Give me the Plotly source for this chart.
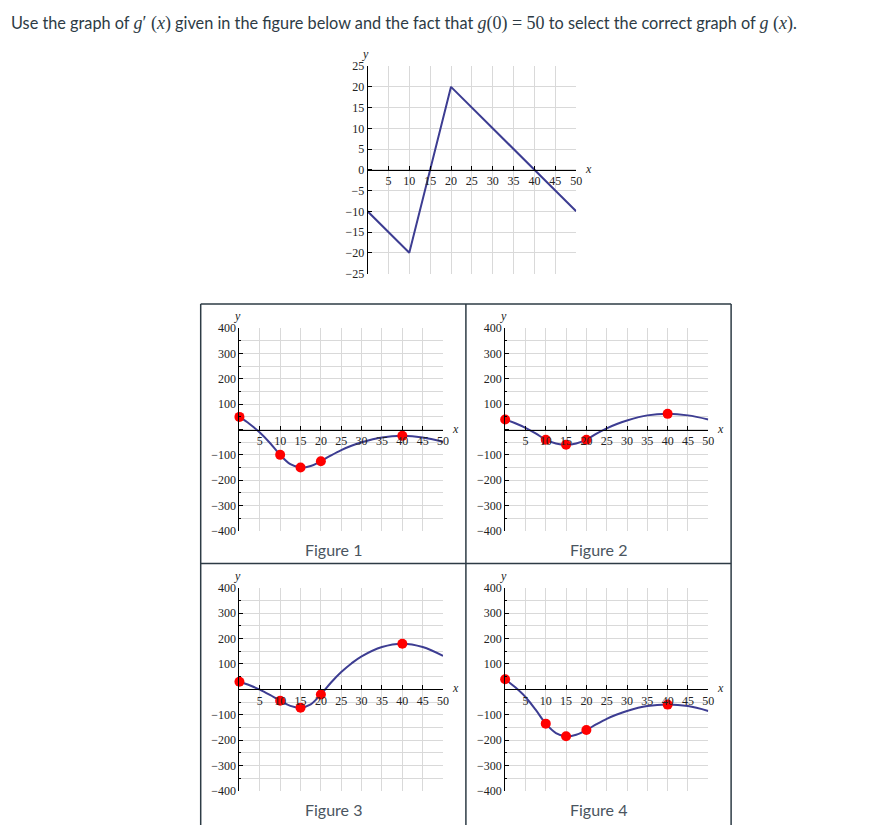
import plotly.graph_objects as go

W, H = 893, 825
OFF = 8  # page body margin of the browser page

# ---- data: g'(x) (top chart) ----
gp_x = [0, 10, 20, 50]
gp_y = [-10, -20, 20, -10]

# ---- data: candidate graphs of g(x) ----
curve_x = [0, 2.5, 5, 7.5, 10, 12.5, 15, 17.5, 20, 22.5, 25, 27.5, 30, 35, 40, 45, 50]
fig1_y = [50, 22, -12, -53, -100, -137, -150, -144, -125, -102, -81, -64, -50, -31, -25, -31, -48]
fig2_y = [40, 25, 7, -15, -40, -55, -60, -55, -40, -16, 5, 22, 36, 56, 62, 56, 40]
fig3_y = [30, 16, -1, -22, -45, -65, -72, -59, -20, 27, 68, 102, 130, 167, 180, 167, 132]
fig4_y = [40, 8, -30, -80, -135, -172, -185, -179, -160, -137, -116, -99, -85, -66, -60, -66, -85]

dot_x = [0, 10, 15, 20, 40]
fig1_dots = [50, -100, -150, -125, -25]
fig2_dots = [40, -40, -60, -40, 62]
fig3_dots = [30, -45, -72, -20, 180]
fig4_dots = [40, -135, -185, -160, -60]

fig_labels = ["Figure 1", "Figure 2", "Figure 3", "Figure 4"]

# tick labels
top_x_ticks = list(range(0, 51, 5))
top_x_text = ["" if v == 0 else str(v) for v in top_x_ticks]
top_y_ticks = list(range(-25, 26, 5))
top_y_text = [str(v).replace("-", "\u2212") for v in top_y_ticks]
pan_y_ticks = list(range(-400, 401, 100))
pan_y_text = ["" if v == 0 else str(v).replace("-", "\u2212") for v in pan_y_ticks]
pan_y_minor = list(range(-350, 351, 100))

LINE = "#3d3d92"
DOT = "#ff0000"
GRID = "#d9d9d9"
SERIF = "Liberation Serif"
SANS = "Lato"
TXT = "#2d3b45"


def px(x):
    return (x - OFF) / W


def py(y):
    return 1 - (y - OFF) / H


fig = go.Figure()

# top chart
fig.add_trace(go.Scatter(x=gp_x, y=gp_y, mode="lines",
                         line=dict(color=LINE, width=2),
                         xaxis="x", yaxis="y", showlegend=False,
                         hoverinfo="skip"))

panels = [
    (fig1_y, fig1_dots),
    (fig2_y, fig2_dots),
    (fig3_y, fig3_dots),
    (fig4_y, fig4_dots),
]
for i, (cy, dy) in enumerate(panels):
    n = i + 2
    fig.add_trace(go.Scatter(x=curve_x, y=cy, mode="lines",
                             line=dict(color=LINE, width=2, shape="spline", smoothing=1.0),
                             xaxis=f"x{n}", yaxis=f"y{n}", showlegend=False,
                             hoverinfo="skip"))
    fig.add_trace(go.Scatter(x=dot_x, y=dy, mode="markers",
                             marker=dict(color=DOT, size=10),
                             xaxis=f"x{n}", yaxis=f"y{n}", showlegend=False,
                             hoverinfo="skip", cliponaxis=False))

tickfont = dict(family=SERIF, size=12, color="#222")

layout = dict(width=W, height=H, margin=dict(l=0, r=0, t=0, b=0),
              paper_bgcolor="white", plot_bgcolor="white",
              showlegend=False)

# top chart axes
top_xd = [px(370), px(580)]
top_yd = [py(271), py(60)]
layout["xaxis"] = dict(domain=top_xd, range=[0, 50], anchor="free",
                       position=(top_yd[0] + top_yd[1]) / 2,
                       tickmode="array", tickvals=top_x_ticks, ticktext=top_x_text,
                       showgrid=True, gridcolor=GRID, gridwidth=1,
                       zeroline=False, showline=True, linecolor="black", linewidth=1,
                       ticks="inside", ticklen=4, tickcolor="black",
                       tickfont=tickfont, fixedrange=True)
layout["yaxis"] = dict(domain=top_yd, range=[-25, 25], anchor="x",
                       tickmode="array", tickvals=top_y_ticks, ticktext=top_y_text,
                       showgrid=True, gridcolor=GRID, gridwidth=1,
                       zeroline=False, showline=True, linecolor="black", linewidth=1,
                       ticks="inside", ticklen=4, tickcolor="black",
                       tickfont=tickfont, fixedrange=True)

pan_xdoms = [[px(241), px(446)], [px(508.5), px(713)],
             [px(241), px(446)], [px(508.5), px(713)]]
pan_ydoms = [[py(532.7), py(326.7)], [py(532.7), py(326.7)],
             [py(797.3), py(590.7)], [py(797.3), py(590.7)]]

for i in range(4):
    n = i + 2
    xd, yd = pan_xdoms[i], pan_ydoms[i]
    layout[f"xaxis{n}"] = dict(domain=xd, range=[0, 50], anchor="free",
                               position=(yd[0] + yd[1]) / 2,
                               tickmode="array", tickvals=top_x_ticks, ticktext=top_x_text,
                               showgrid=True, gridcolor=GRID, gridwidth=1,
                               zeroline=False, showline=True, linecolor="black", linewidth=1,
                               ticks="inside", ticklen=4, tickcolor="black",
                               tickfont=tickfont, fixedrange=True)
    layout[f"yaxis{n}"] = dict(domain=yd, range=[-400, 400], anchor=f"x{n}",
                               tickmode="array", tickvals=pan_y_ticks, ticktext=pan_y_text,
                               showgrid=True, gridcolor=GRID, gridwidth=1,
                               minor=dict(tickmode="array", tickvals=pan_y_minor,
                                          showgrid=True, gridcolor=GRID, gridwidth=1,
                                          ticks="inside", ticklen=2, tickcolor="black"),
                               zeroline=False, showline=True, linecolor="black", linewidth=1,
                               ticks="inside", ticklen=4, tickcolor="black",
                               tickfont=tickfont, fixedrange=True)

annotations = []
# title
ser = "<span style=\"font-family:'Liberation Serif'; font-size:18px\">"
title = ("Use the graph of " + ser + "<i>g</i>′ (<i>x</i>)</span>"
         " given in the figure below and the fact that "
         + ser + "<i>g</i>(0) = 50</span>"
         " to select the correct graph of "
         + ser + "<i>g</i> (<i>x</i>)</span>.")
annotations.append(dict(text=title, xref="paper", yref="paper", x=px(9), y=py(17),
                        xanchor="left", yanchor="middle", showarrow=False,
                        font=dict(family=SANS, size=16.3, color=TXT)))

axis_names = [("x", "y", 25)] + [(f"x{n}", f"y{n}", 400) for n in range(2, 6)]
for xa, ya, top in axis_names:
    annotations.append(dict(text="<i>y</i>", xref=xa, yref=ya, x=0, y=top,
                            xanchor="center", yanchor="bottom", yshift=3, xshift=-2,
                            showarrow=False, font=dict(family=SERIF, size=12, color="#222")))
    annotations.append(dict(text="<i>x</i>", xref=xa, yref=ya, x=50, y=0,
                            xanchor="left", yanchor="middle", xshift=7, yshift=1,
                            showarrow=False, font=dict(family=SERIF, size=12, color="#222")))

fig_lab_pos = [(335.5, 552), (602.5, 552), (335.5, 816), (602.5, 816)]
for lab, (lx, ly) in zip(fig_labels, fig_lab_pos):
    annotations.append(dict(text=lab, xref="paper", yref="paper", x=px(lx), y=py(ly),
                            xanchor="center", yanchor="middle", showarrow=False,
                            font=dict(family=SANS, size=16, color="#4a5560")))
layout["annotations"] = annotations

BORDER = "#2d3b45"
shapes = [
    dict(type="line", xref="paper", yref="paper", x0=px(202), x1=px(736), y0=py(302), y1=py(302),
         line=dict(color=BORDER, width=1.5)),
    dict(type="line", xref="paper", yref="paper", x0=px(202), x1=px(736), y0=py(566), y1=py(566),
         line=dict(color=BORDER, width=1.5)),
    dict(type="line", xref="paper", yref="paper", x0=px(202), x1=px(202), y0=py(302), y1=py(840),
         line=dict(color=BORDER, width=1.5)),
    dict(type="line", xref="paper", yref="paper", x0=px(469), x1=px(469), y0=py(302), y1=py(840),
         line=dict(color=BORDER, width=1.5)),
    dict(type="line", xref="paper", yref="paper", x0=px(736), x1=px(736), y0=py(302), y1=py(840),
         line=dict(color=BORDER, width=1.5)),
]
layout["shapes"] = shapes

fig.update_layout(**layout)
fig.write_html("out.html", config={"displayModeBar": False})
